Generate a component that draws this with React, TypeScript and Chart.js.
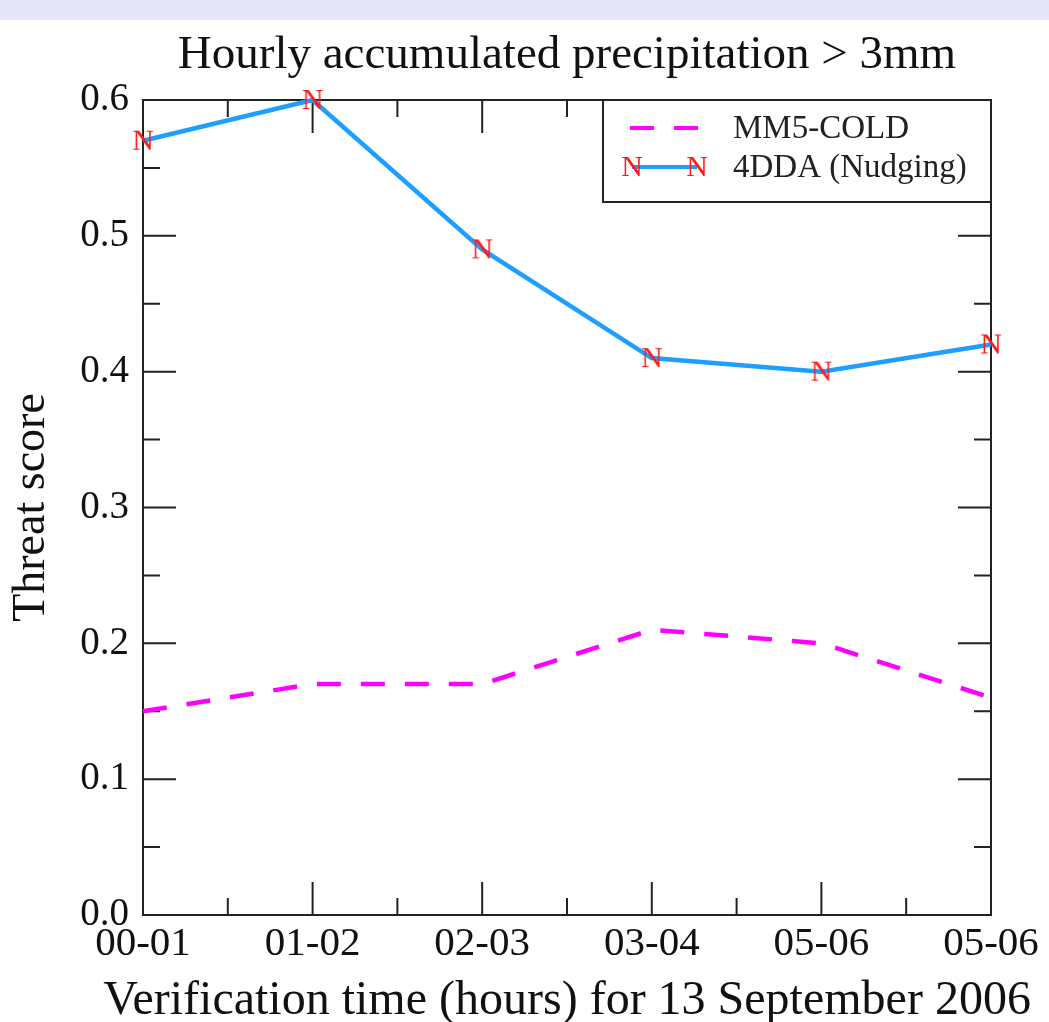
import React, { useEffect, useRef } from "react";
import { Chart, registerables } from "chart.js";

Chart.register(...registerables);

// ---- data ----
const categories = ["00-01", "01-02", "02-03", "03-04", "05-06", "05-06"];
const mm5ColdValues = [0.15, 0.17, 0.17, 0.21, 0.2, 0.16];
const nudgingValues = [0.57, 0.6, 0.49, 0.41, 0.4, 0.42];
const yMajorTicks = [0, 0.1, 0.2, 0.3, 0.4, 0.5, 0.6];
const seriesNames = ["MM5-COLD", "4DDA (Nudging)"];
const chartTitle = "Hourly accumulated precipitation > 3mm";
const xTitle = "Verification time (hours) for 13 September 2006";
const yTitle = "Threat score";

const SERIF = "'Liberation Serif', 'Times New Roman', serif";
const MAGENTA = "#ff00ff";
const BLUE = "#1e9fff";
const AXIS = "#222222";

function makeNMarker(): HTMLCanvasElement {
  const c = document.createElement("canvas");
  c.width = 30;
  c.height = 30;
  const g = c.getContext("2d")!;
  g.fillStyle = "#ff1a1a";
  g.font = `30px ${SERIF}`;
  g.textAlign = "center";
  g.textBaseline = "middle";
  g.fillText("N", 15, 16);
  return c;
}

export default function App() {
  const ref = useRef<HTMLCanvasElement | null>(null);

  useEffect(() => {
    if (!ref.current) return;
    const marker = makeNMarker();

    const framePlugin = {
      id: "framePlugin",
      beforeDraw(chart: any) {
        const ctx = chart.ctx;
        const { left, right } = chart.chartArea;
        ctx.save();
        ctx.fillStyle = "#ffffff";
        ctx.fillRect(0, 0, chart.width, chart.height);
        ctx.fillStyle = "#e6e6fa";
        ctx.fillRect(0, 0, chart.width, 20);
        ctx.fillStyle = "#111";
        ctx.textAlign = "center";
        ctx.textBaseline = "middle";
        ctx.font = `47px ${SERIF}`;
        ctx.fillText(chartTitle, (left + right) / 2, 56);
        ctx.font = `48px ${SERIF}`;
        ctx.fillText(xTitle, (left + right) / 2, chart.height - 21);
        ctx.restore();
      },
      beforeDatasetsDraw(chart: any) {
        const ctx = chart.ctx;
        const { left, right, top, bottom } = chart.chartArea;
        const xs = chart.scales.x;
        const ys = chart.scales.y;
        ctx.save();
        ctx.strokeStyle = AXIS;
        ctx.lineWidth = 2;
        ctx.strokeRect(left, top, right - left, bottom - top);
        const major = 33;
        const minor = 17;
        ctx.beginPath();
        for (let i = 0; i < categories.length; i++) {
          const px = xs.getPixelForValue(i);
          ctx.moveTo(px, bottom);
          ctx.lineTo(px, bottom - major);
          ctx.moveTo(px, top);
          ctx.lineTo(px, top + major);
          if (i < categories.length - 1) {
            const mx = xs.getPixelForValue(i + 0.5);
            ctx.moveTo(mx, bottom);
            ctx.lineTo(mx, bottom - minor);
            ctx.moveTo(mx, top);
            ctx.lineTo(mx, top + minor);
          }
        }
        for (let k = 0; k < yMajorTicks.length; k++) {
          const v = yMajorTicks[k];
          const py = ys.getPixelForValue(v);
          ctx.moveTo(left, py);
          ctx.lineTo(left + major, py);
          ctx.moveTo(right, py);
          ctx.lineTo(right - major, py);
          if (k < yMajorTicks.length - 1) {
            const my = ys.getPixelForValue((v + yMajorTicks[k + 1]) / 2);
            ctx.moveTo(left, my);
            ctx.lineTo(left + minor, my);
            ctx.moveTo(right, my);
            ctx.lineTo(right - minor, my);
          }
        }
        ctx.stroke();
        ctx.restore();
      },
      afterDraw(chart: any) {
        const ctx = chart.ctx;
        const { right, top } = chart.chartArea;
        const bx = right - 388;
        const bw = 388;
        const bh = 102;
        ctx.save();
        ctx.fillStyle = "#ffffff";
        ctx.fillRect(bx, top, bw, bh);
        ctx.strokeStyle = AXIS;
        ctx.lineWidth = 2;
        ctx.strokeRect(bx, top, bw, bh);

        const y1 = top + 28;
        const y2 = top + 67;
        // MM5-COLD sample
        ctx.strokeStyle = MAGENTA;
        ctx.lineWidth = 4;
        ctx.setLineDash([24, 20]);
        ctx.beginPath();
        ctx.moveTo(bx + 27, y1);
        ctx.lineTo(bx + 95, y1);
        ctx.stroke();
        ctx.setLineDash([]);
        // 4DDA sample
        ctx.strokeStyle = BLUE;
        ctx.beginPath();
        ctx.moveTo(bx + 29, y2);
        ctx.lineTo(bx + 94, y2);
        ctx.stroke();
        ctx.drawImage(marker, bx + 29 - 15, y2 - 15);
        ctx.drawImage(marker, bx + 94 - 15, y2 - 15);

        ctx.fillStyle = "#222";
        ctx.font = `33px ${SERIF}`;
        ctx.textBaseline = "middle";
        ctx.textAlign = "left";
        ctx.fillText(seriesNames[0], bx + 130, y1 + 1);
        ctx.fillText(seriesNames[1], bx + 130, y2 + 1);
        ctx.restore();
      },
    };

    const chart = new Chart(ref.current, {
      type: "line",
      data: {
        labels: categories,
        datasets: [
          {
            label: seriesNames[0],
            data: mm5ColdValues,
            borderColor: MAGENTA,
            borderWidth: 4.5,
            borderDash: [24, 20],
            pointRadius: 0,
            tension: 0,
            fill: false,
            clip: false as any,
          },
          {
            label: seriesNames[1],
            data: nudgingValues,
            borderColor: BLUE,
            borderWidth: 4.5,
            pointStyle: marker as any,
            pointRadius: 13,
            tension: 0,
            fill: false,
            clip: false as any,
          },
        ],
      },
      options: {
        responsive: false,
        animation: false,
        devicePixelRatio: 1,
        layout: { padding: { left: 0, right: 58, top: 100, bottom: 0 } },
        plugins: {
          legend: { display: false },
          tooltip: { enabled: false },
          title: { display: false },
        },
        scales: {
          x: {
            type: "category",
            offset: false,
            grid: { display: false, drawTicks: false },
            border: { display: false },
            ticks: {
              color: "#111",
              font: { family: SERIF, size: 41, lineHeight: 1.2 },
              padding: 5,
              maxRotation: 0,
              autoSkip: false,
            },
            title: { display: false },
            afterFit(scale: any) {
              scale.height = 107;
            },
          },
          y: {
            min: 0,
            max: 0.6,
            grid: { display: false, drawTicks: false },
            border: { display: false },
            ticks: {
              stepSize: 0.1,
              color: "#111",
              font: { family: SERIF, size: 39 },
              padding: 14,
              callback: (v: any) => Number(v).toFixed(1),
            },
            title: {
              display: true,
              text: yTitle,
              color: "#111",
              font: { family: SERIF, size: 46, lineHeight: 1 },
              padding: { top: 9, bottom: 0 },
            },
            afterFit(scale: any) {
              scale.width = 143;
            },
          },
        },
      },
      plugins: [framePlugin],
    });
    return () => chart.destroy();
  }, []);

  return (
    <div style={{ position: "absolute", left: 0, top: 0, width: 1049, height: 1022 }}>
      <canvas ref={ref} width={1049} height={1022} />
    </div>
  );
}
